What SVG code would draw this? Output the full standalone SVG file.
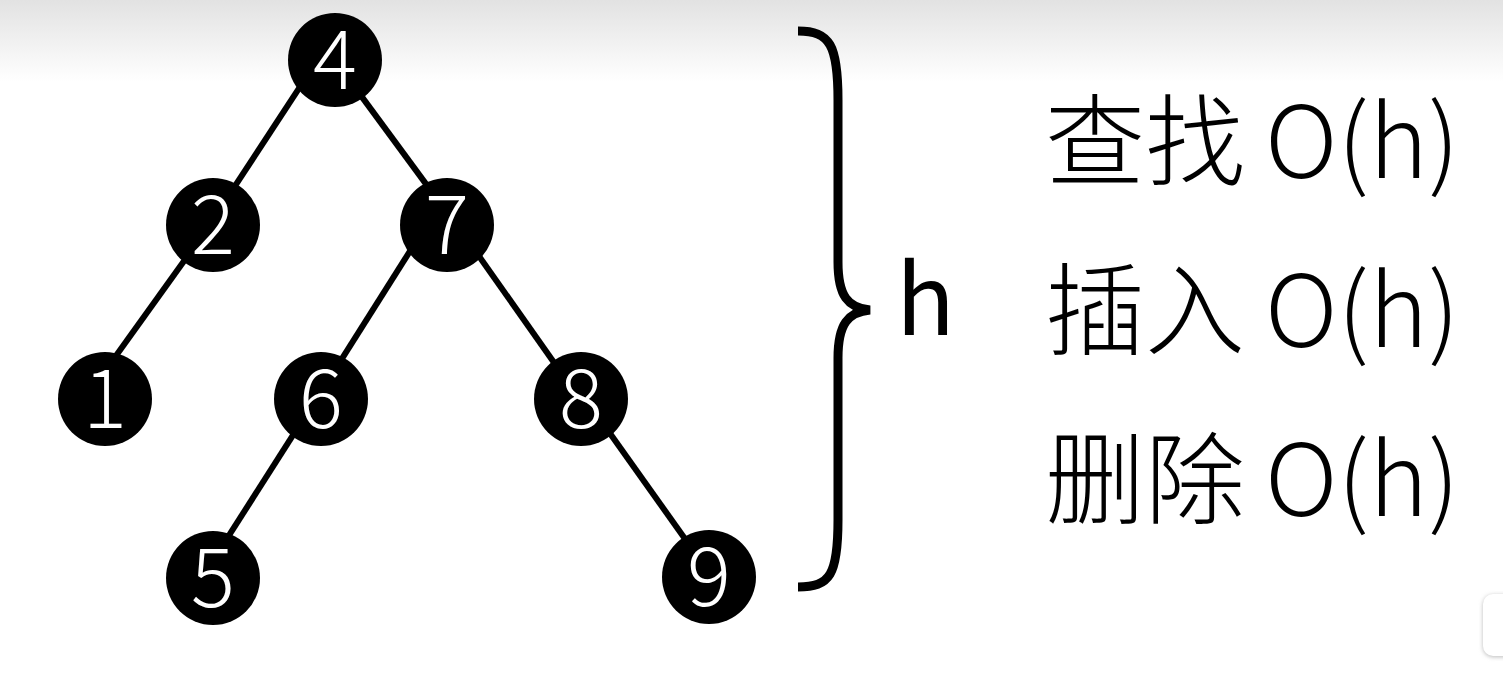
<svg xmlns="http://www.w3.org/2000/svg" width="1503" height="675" viewBox="0 0 1503 675">
<defs>
<linearGradient id="topfade" x1="0" y1="0" x2="0" y2="1">
<stop offset="0" stop-color="#e2e2e2"/>
<stop offset="1" stop-color="#ffffff"/>
</linearGradient>
<filter id="shadow" x="-50%" y="-50%" width="200%" height="200%">
<feGaussianBlur stdDeviation="2"/>
</filter>
</defs>
<style>
.node circle { fill: #000; }
.node text { fill: #fff; font-family: "Noto Sans CJK SC", "Noto Sans", sans-serif; font-weight: 300; font-size: 82px; text-anchor: middle; }
.edge { stroke: #000; stroke-width: 6; stroke-linecap: butt; }
.op { fill: #000; font-family: "Noto Sans CJK SC", "Noto Sans", sans-serif; font-weight: 300; font-size: 100px; }
.brace { fill: none; stroke: #000; stroke-width: 9; }
.hlabel { fill: #000; font-family: "Noto Sans CJK SC", "Noto Sans", sans-serif; font-weight: 400; font-size: 97px; }
</style>
<rect x="0" y="0" width="1503" height="675" fill="#fff"/>
<rect x="0" y="0" width="1503" height="82" fill="url(#topfade)"/>

<g id="connectors">
<line class="edge" x1="302.9" y1="82.3" x2="231.3" y2="191.7"/>
<line class="edge" x1="357.3" y1="90.6" x2="430.7" y2="190.4"/>
<line class="edge" x1="189.4" y1="253.5" x2="113.3" y2="359.5"/>
<line class="edge" x1="415" y1="243.2" x2="338.7" y2="363.8"/>
<line class="edge" x1="475" y1="250.5" x2="558.2" y2="368.5"/>
<line class="edge" x1="297.3" y1="428.3" x2="226.3" y2="539.7"/>
<line class="edge" x1="605.1" y1="426.5" x2="688.3" y2="543.5"/>
</g>

<g id="node-4" class="node"><circle cx="335" cy="60" r="47"/><text x="335" y="89">4</text></g>
<g id="node-2" class="node"><circle cx="213" cy="225" r="47"/><text x="213" y="254">2</text></g>
<g id="node-7" class="node"><circle cx="447" cy="225" r="47"/><text x="447" y="254">7</text></g>
<g id="node-1" class="node"><circle cx="105" cy="399" r="47"/><text x="105" y="428">1</text></g>
<g id="node-6" class="node"><circle cx="321" cy="399" r="47"/><text x="321" y="428">6</text></g>
<g id="node-8" class="node"><circle cx="581" cy="399" r="47"/><text x="581" y="428">8</text></g>
<g id="node-5" class="node"><circle cx="213" cy="578" r="47"/><text x="213" y="607">5</text></g>
<g id="node-9" class="node"><circle cx="709" cy="577" r="47"/><text x="709" y="606">9</text></g>

<g id="brace">
<path class="brace" d="M 798 31 C 830 31, 838 45, 838 100 L 838 262 C 838 296, 848 308, 870 310 C 848 312, 838 324, 838 358 L 838 520 C 838 575, 830 587, 798 587"/>
</g>
<g id="h-label"><text class="hlabel" x="896" y="335">h</text></g>

<g id="ops">
<text class="op" x="1045" y="178">查找</text><text class="op" x="1265" y="178">O(h)</text>
<text class="op" x="1045" y="347">插入</text><text class="op" x="1265" y="347">O(h)</text>
<text class="op" x="1045" y="516">删除</text><text class="op" x="1265" y="516">O(h)</text>
</g>

<g id="corner-widget">
<rect x="1483" y="595" width="40" height="62" rx="10" fill="#bbb" filter="url(#shadow)"/>
<rect x="1483" y="594" width="40" height="62" rx="10" fill="#fff"/>
</g>
</svg>
